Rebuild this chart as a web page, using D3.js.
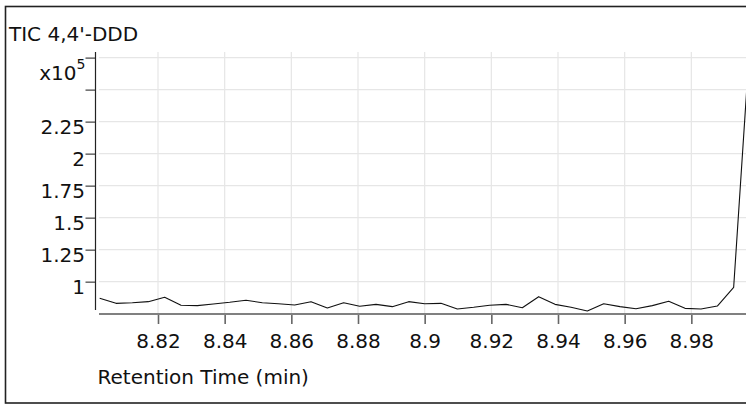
<!DOCTYPE html>
<html>
<head>
<meta charset="utf-8">
<script src="https://cdn.jsdelivr.net/npm/d3@7"></script>
<style>
  html, body { margin: 0; padding: 0; background: #fff; }
  svg { display: block; }
  text { font-family: "DejaVu Sans", Verdana, sans-serif; fill: #111; }
</style>
</head>
<body>
<svg id="chart" width="746" height="405"></svg>
<script>
// ---- data ----
const title = "TIC 4,4'-DDD";
const xAxisTitle = "Retention Time (min)";
const times = [
  8.8025, 8.8074, 8.8123, 8.8171, 8.8220, 8.8269, 8.8318, 8.8366, 8.8415, 8.8464,
  8.8513, 8.8561, 8.8610, 8.8659, 8.8708, 8.8757, 8.8805, 8.8854, 8.8903, 8.8952,
  8.9000, 8.9049, 8.9098, 8.9147, 8.9195, 8.9244, 8.9293, 8.9342, 8.9391, 8.9439,
  8.9488, 8.9537, 8.9586, 8.9634, 8.9683, 8.9732, 8.9781, 8.9829, 8.9878, 8.9927,
  8.9976
];
const intensity = [ // x10^5
  0.870, 0.831, 0.836, 0.844, 0.878, 0.816, 0.813, 0.826, 0.839, 0.855,
  0.836, 0.828, 0.818, 0.844, 0.795, 0.836, 0.808, 0.823, 0.805, 0.844,
  0.828, 0.831, 0.787, 0.800, 0.816, 0.823, 0.797, 0.883, 0.823, 0.800,
  0.771, 0.828, 0.805, 0.789, 0.813, 0.847, 0.792, 0.787, 0.810, 0.956,
  2.890
];
const xTicks = [8.82, 8.84, 8.86, 8.88, 8.90, 8.92, 8.94, 8.96, 8.98];
const xTickLabels = ["8.82", "8.84", "8.86", "8.88", "8.9", "8.92", "8.94", "8.96", "8.98"];
const yTicks = [1, 1.25, 1.5, 1.75, 2, 2.25, 2.5, 2.75];
const yTickLabels = ["1", "1.25", "1.5", "1.75", "2", "2.25", "", ""];
const yExponent = "5";

// ---- layout ----
const svg = d3.select("#chart");
const plotLeft = 99, plotRight = 758, plotTop = 52, plotBottom = 313;
const fs = "20px";

const x = d3.scaleLinear().domain([8.8023, 9.0]).range([plotLeft, plotRight]);
const y = d3.scaleLinear().domain([0.7555, 2.794]).range([plotBottom, plotTop]);

// outer frame (extends beyond right edge as in the reference)
svg.append("rect")
  .attr("x", 5.5).attr("y", 6.5).attr("width", 800).attr("height", 396.5)
  .attr("fill", "none").attr("stroke", "#222").attr("stroke-width", 1.6);

// title
svg.append("text").attr("x", 9).attr("y", 40.5)
  .style("font-size", fs).text(title);

// grid
const grid = svg.append("g");
grid.selectAll("line.v").data(xTicks).join("line")
  .attr("x1", d => x(d)).attr("x2", d => x(d))
  .attr("y1", plotTop).attr("y2", plotBottom)
  .attr("stroke", "#e6e6e6").attr("stroke-width", 1.2);
grid.selectAll("line.h").data(yTicks).join("line")
  .attr("x1", plotLeft).attr("x2", 746)
  .attr("y1", d => y(d)).attr("y2", d => y(d))
  .attr("stroke", "#e6e6e6").attr("stroke-width", 1.2);

// clip
svg.append("clipPath").attr("id", "clip").append("rect")
  .attr("x", plotLeft - 1).attr("y", plotTop).attr("width", plotRight - plotLeft + 2)
  .attr("height", plotBottom - plotTop);

// line
const lineGen = d3.line().x((d, i) => x(times[i])).y(d => y(d));
svg.append("path").datum(intensity)
  .attr("clip-path", "url(#clip)")
  .attr("d", lineGen)
  .attr("fill", "none").attr("stroke", "#111").attr("stroke-width", 1.1)
  .attr("stroke-linejoin", "round");

// y axis
const yAxis = d3.axisLeft(y).tickValues(yTicks)
  .tickFormat((d, i) => yTickLabels[i]).tickSize(10).tickPadding(1);
const gy = svg.append("g").attr("transform", "translate(95.5,0)").call(yAxis);
gy.select(".domain").remove();
gy.selectAll(".tick line").attr("stroke", "#666").attr("stroke-width", 1.5);
gy.selectAll(".tick text").style("font-size", fs).attr("dy", "0.57em")
  .attr("fill", "#111").attr("x", -10.5);
gy.append("line").attr("x1", 0).attr("x2", 0)
  .attr("y1", plotTop).attr("y2", plotBottom - 3)
  .attr("stroke", "#222").attr("stroke-width", 1.2);

// exponent label
const expLabel = svg.append("text").attr("x", 85.5).attr("y", 80)
  .attr("text-anchor", "end").style("font-size", fs);
expLabel.append("tspan").text("x10");
expLabel.append("tspan").attr("dy", -11).style("font-size", "14px").text(yExponent);

// x axis
const xAxis = d3.axisBottom(x).tickValues(xTicks)
  .tickFormat((d, i) => xTickLabels[i]).tickSize(10).tickPadding(10);
const gx = svg.append("g").attr("transform", `translate(0,${plotBottom + 1})`).call(xAxis);
gx.select(".domain").remove();
gx.selectAll(".tick line").attr("stroke", "#666").attr("stroke-width", 1.6);
gx.selectAll(".tick text").style("font-size", fs).attr("fill", "#111");
gx.append("line").attr("x1", plotLeft).attr("x2", 746).attr("y1", 0).attr("y2", 0)
  .attr("stroke", "#808080").attr("stroke-width", 2);

// x axis title
svg.append("text").attr("x", 97.5).attr("y", 383.5)
  .style("font-size", fs).text(xAxisTitle);
</script>
</body>
</html>
